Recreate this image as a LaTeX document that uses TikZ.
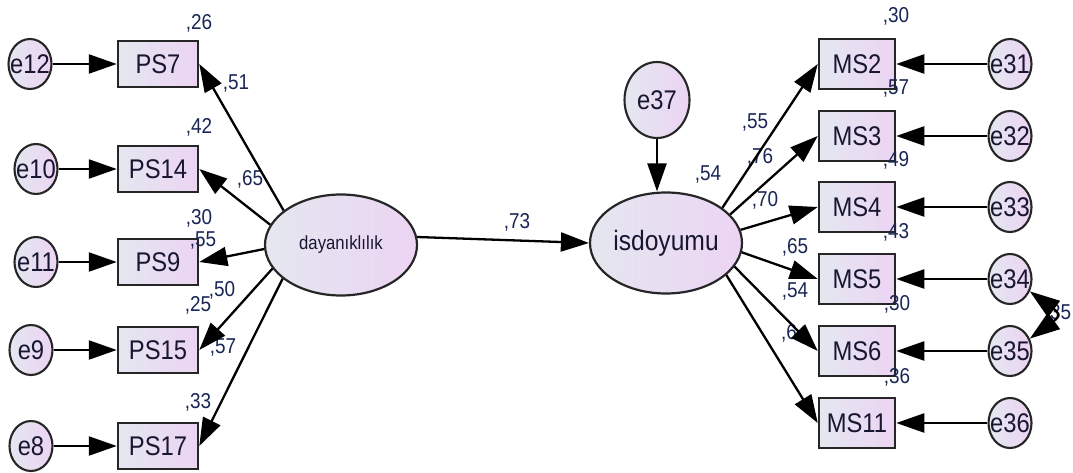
\documentclass[tikz,border=0pt]{standalone}
\usepackage{fontspec}
\setmainfont{Liberation Sans}[FakeStretch=0.88]
\usetikzlibrary{shapes.geometric,arrows.meta}

\definecolor{fillA}{RGB}{228,231,240}
\definecolor{fillB}{RGB}{236,212,243}
\definecolor{txt}{RGB}{25,22,50}
\definecolor{num}{RGB}{25,38,85}

\begin{document}
\begin{tikzpicture}[x=1pt,y=-1pt,
    observed/.style={rectangle,draw=black!85,line width=2.5pt,left color=fillA,right color=fillB,inner sep=0pt,text=txt,font=\fontsize{27}{28}\selectfont},
    psbox/.style={observed,minimum width=80pt,minimum height=46pt},
    msbox/.style={observed,minimum width=76pt,minimum height=50pt},
    errnode/.style={ellipse,draw=black!85,line width=2.1pt,left color=fillA,right color=fillB,inner sep=0pt,minimum width=43pt,minimum height=50pt},
    errlabel/.style={inner sep=0pt,text=txt,font=\fontsize{27}{28}\selectfont},
    latent/.style={ellipse,draw=black!85,line width=2.2pt,left color=fillA,right color=fillB,inner sep=0pt,text=txt,minimum width=152pt,minimum height=101pt},
    weight/.style={inner sep=0pt,text=num,font=\fontsize{21.5}{22}\selectfont},
    regarrow/.style={line width=2.3pt,-{Triangle[length=28pt,width=19pt]}}
    ]

    \useasboundingbox (0,0) rectangle (1073,473);

    % latent variables
    \node (dayanik) [latent,font=\fontsize{19}{20}\selectfont] at (341,245) {dayanıklılık};
    \node (isdoyumu) [latent,font=\fontsize{28}{30}\selectfont] at (666,243) {isdoyumu};
    \node (e37) [errnode,minimum width=65pt,minimum height=76pt,label={[errlabel]center:e37}] at (657,100) {};

    % left indicators and their errors
    \foreach \n/\y/\e/\ex in {7/64/12/30, 14/169/10/36, 9/262/11/36, 15/350/9/31, 17/446/8/31}
    {
      \node (ps\n) [psbox] at (158,\y) {PS\n};
      \node (e\e) [errnode,label={[errlabel]center:e\e}] at (\ex,\y) {};
    }

    % right indicators and their errors
    \foreach \n/\y/\e in {2/64/31, 3/136/32, 4/207/33, 5/279/34, 6/351/35, 11/423/36}
    {
      \node (ms\n) [msbox] at (857,\y) {MS\n};
      \node (e\e) [errnode,label={[errlabel]center:e\e}] at (1010,\y) {};
    }

    % estimates
    \foreach \t/\x/\y [count=\i] in {26/199/23, 42/199/127, 30/199/218, 55/203/240, 51/236/83,
      65/250/179, 25/198/305, 50/222/290, 57/223/347, 33/198/402, 73/517/222, 54/708/174,
      30/896/16, 57/896/88, 49/896/160, 43/896/232, 30/897/304, 36/897/377,
      55/755/122, 76/760/157, 70/765/200, 65/795/247, 54/795/291, 6/789/333, 35/1058/313}
      \node (w\i) [weight] at (\x,\y) {,\t};

    % paths
    \foreach \n/\a in {7/149,14/164,9/183,15/199,17/210}
      \draw[regarrow] (dayanik.\a) -- (ps\n.east);

    \foreach \n/\a in {2/32,3/24,4/10,5/-7,6/-19,11/-28}
      \draw[regarrow] (isdoyumu.\a) -- (ms\n.west);

    \foreach \n/\e in {7/12,14/10,9/11,15/9,17/8}
      \draw[regarrow] (e\e) -- (ps\n);

    \foreach \n/\e in {2/31,3/32,4/33,5/34,6/35,11/36}
      \draw[regarrow] (e\e) -- (ms\n);

    \draw[regarrow] (dayanik.6) -- (isdoyumu.west);
    \draw[regarrow] (e37) -- (isdoyumu.north -| e37);

    % covariance
    \draw[line width=2.3pt,{Triangle[length=30pt,width=20pt]}-{Triangle[length=30pt,width=20pt]}]
      (e34.-32) .. controls +(30,22) and +(30,-22) .. (e35.32);

\end{tikzpicture}
\end{document}
